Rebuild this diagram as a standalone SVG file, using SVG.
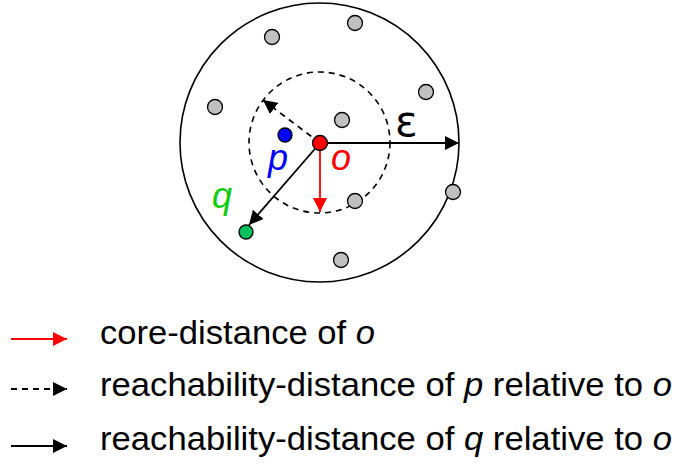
<svg xmlns="http://www.w3.org/2000/svg" width="674" height="467" viewBox="0 0 674 467">
<style>
.ring{fill:none;stroke:#000;stroke-width:1.6}
.dash{stroke-dasharray:6,5}
.pt{stroke:#000;stroke-width:1.3}
.gray{fill:#C0C0C0}
.lbl{font-family:"Liberation Sans",Arial,sans-serif;font-size:36px;font-style:italic}
.leg{font-family:"Liberation Sans",Arial,sans-serif;font-size:34px;fill:#000}
.k{stroke:#000;stroke-width:1.8;fill:none}
.r{stroke:#F00;stroke-width:1.8;fill:none}
</style>
<defs>
<marker id="ak" viewBox="0 0 14 14" refX="14" refY="7" markerWidth="14" markerHeight="14" markerUnits="userSpaceOnUse" orient="auto"><path d="M0,0 L14,7 L0,14 z" fill="#000"/></marker>
<marker id="ar" viewBox="0 0 14 14" refX="14" refY="7" markerWidth="14" markerHeight="14" markerUnits="userSpaceOnUse" orient="auto"><path d="M0,0 L14,7 L0,14 z" fill="#F00"/></marker>
</defs>
<g id="eps-circle"><circle class="ring" cx="319.5" cy="142.5" r="139.5"/></g>
<g id="core-circle"><circle class="ring dash" cx="319.5" cy="142.5" r="70.5"/></g>
<g id="connectors">
<line class="k" x1="320" y1="143" x2="459" y2="143" marker-end="url(#ak)"/>
<line class="r" x1="320" y1="143" x2="320" y2="212" marker-end="url(#ar)"/>
<line class="k" x1="320" y1="143" x2="249" y2="225" marker-end="url(#ak)"/>
<line class="k dash" x1="320" y1="143" x2="263" y2="100" marker-end="url(#ak)"/>
<line class="r" x1="11" y1="339" x2="67" y2="339" marker-end="url(#ar)"/>
<line class="k" x1="11" y1="389" x2="67" y2="389" stroke-dasharray="6,5" marker-end="url(#ak)"/>
<line class="k" x1="11" y1="446" x2="67" y2="446" marker-end="url(#ak)"/>
</g>
<g id="pt1"><circle class="pt gray" cx="355" cy="23" r="7.5"/></g>
<g id="pt2"><circle class="pt gray" cx="272" cy="37" r="7.5"/></g>
<g id="pt3"><circle class="pt gray" cx="215" cy="107" r="7.5"/></g>
<g id="pt4"><circle class="pt gray" cx="426" cy="92" r="7.5"/></g>
<g id="pt5"><circle class="pt gray" cx="342" cy="120" r="7.5"/></g>
<g id="pt6"><circle class="pt gray" cx="355" cy="201" r="7.5"/></g>
<g id="pt7"><circle class="pt gray" cx="453" cy="192" r="7.5"/></g>
<g id="pt8"><circle class="pt gray" cx="341" cy="260" r="7.5"/></g>
<g id="p"><circle class="pt" fill="#0000FF" cx="285" cy="135" r="7"/><text class="lbl" x="268" y="170" fill="#0000FF">p</text></g>
<g id="o"><circle class="pt" fill="#FF0000" cx="320" cy="143" r="7.5"/><text class="lbl" x="331" y="170" fill="#FF0000">o</text></g>
<g id="q"><circle class="pt" fill="#00C060" cx="246" cy="232" r="7"/><text class="lbl" x="212" y="208" fill="#11CC11">q</text></g>
<g id="eps"><text x="395" y="136" font-family="'DejaVu Sans',sans-serif" font-size="42" fill="#000">ε</text></g>
<g id="legend">
<text class="leg" x="100" y="344" textLength="275" lengthAdjust="spacingAndGlyphs">core-distance of <tspan font-style="italic">o</tspan></text>
<text class="leg" x="100" y="396" textLength="572" lengthAdjust="spacingAndGlyphs">reachability-distance of <tspan font-style="italic">p</tspan> relative to <tspan font-style="italic">o</tspan></text>
<text class="leg" x="100" y="450" textLength="572" lengthAdjust="spacingAndGlyphs">reachability-distance of <tspan font-style="italic">q</tspan> relative to <tspan font-style="italic">o</tspan></text>
</g>
</svg>
